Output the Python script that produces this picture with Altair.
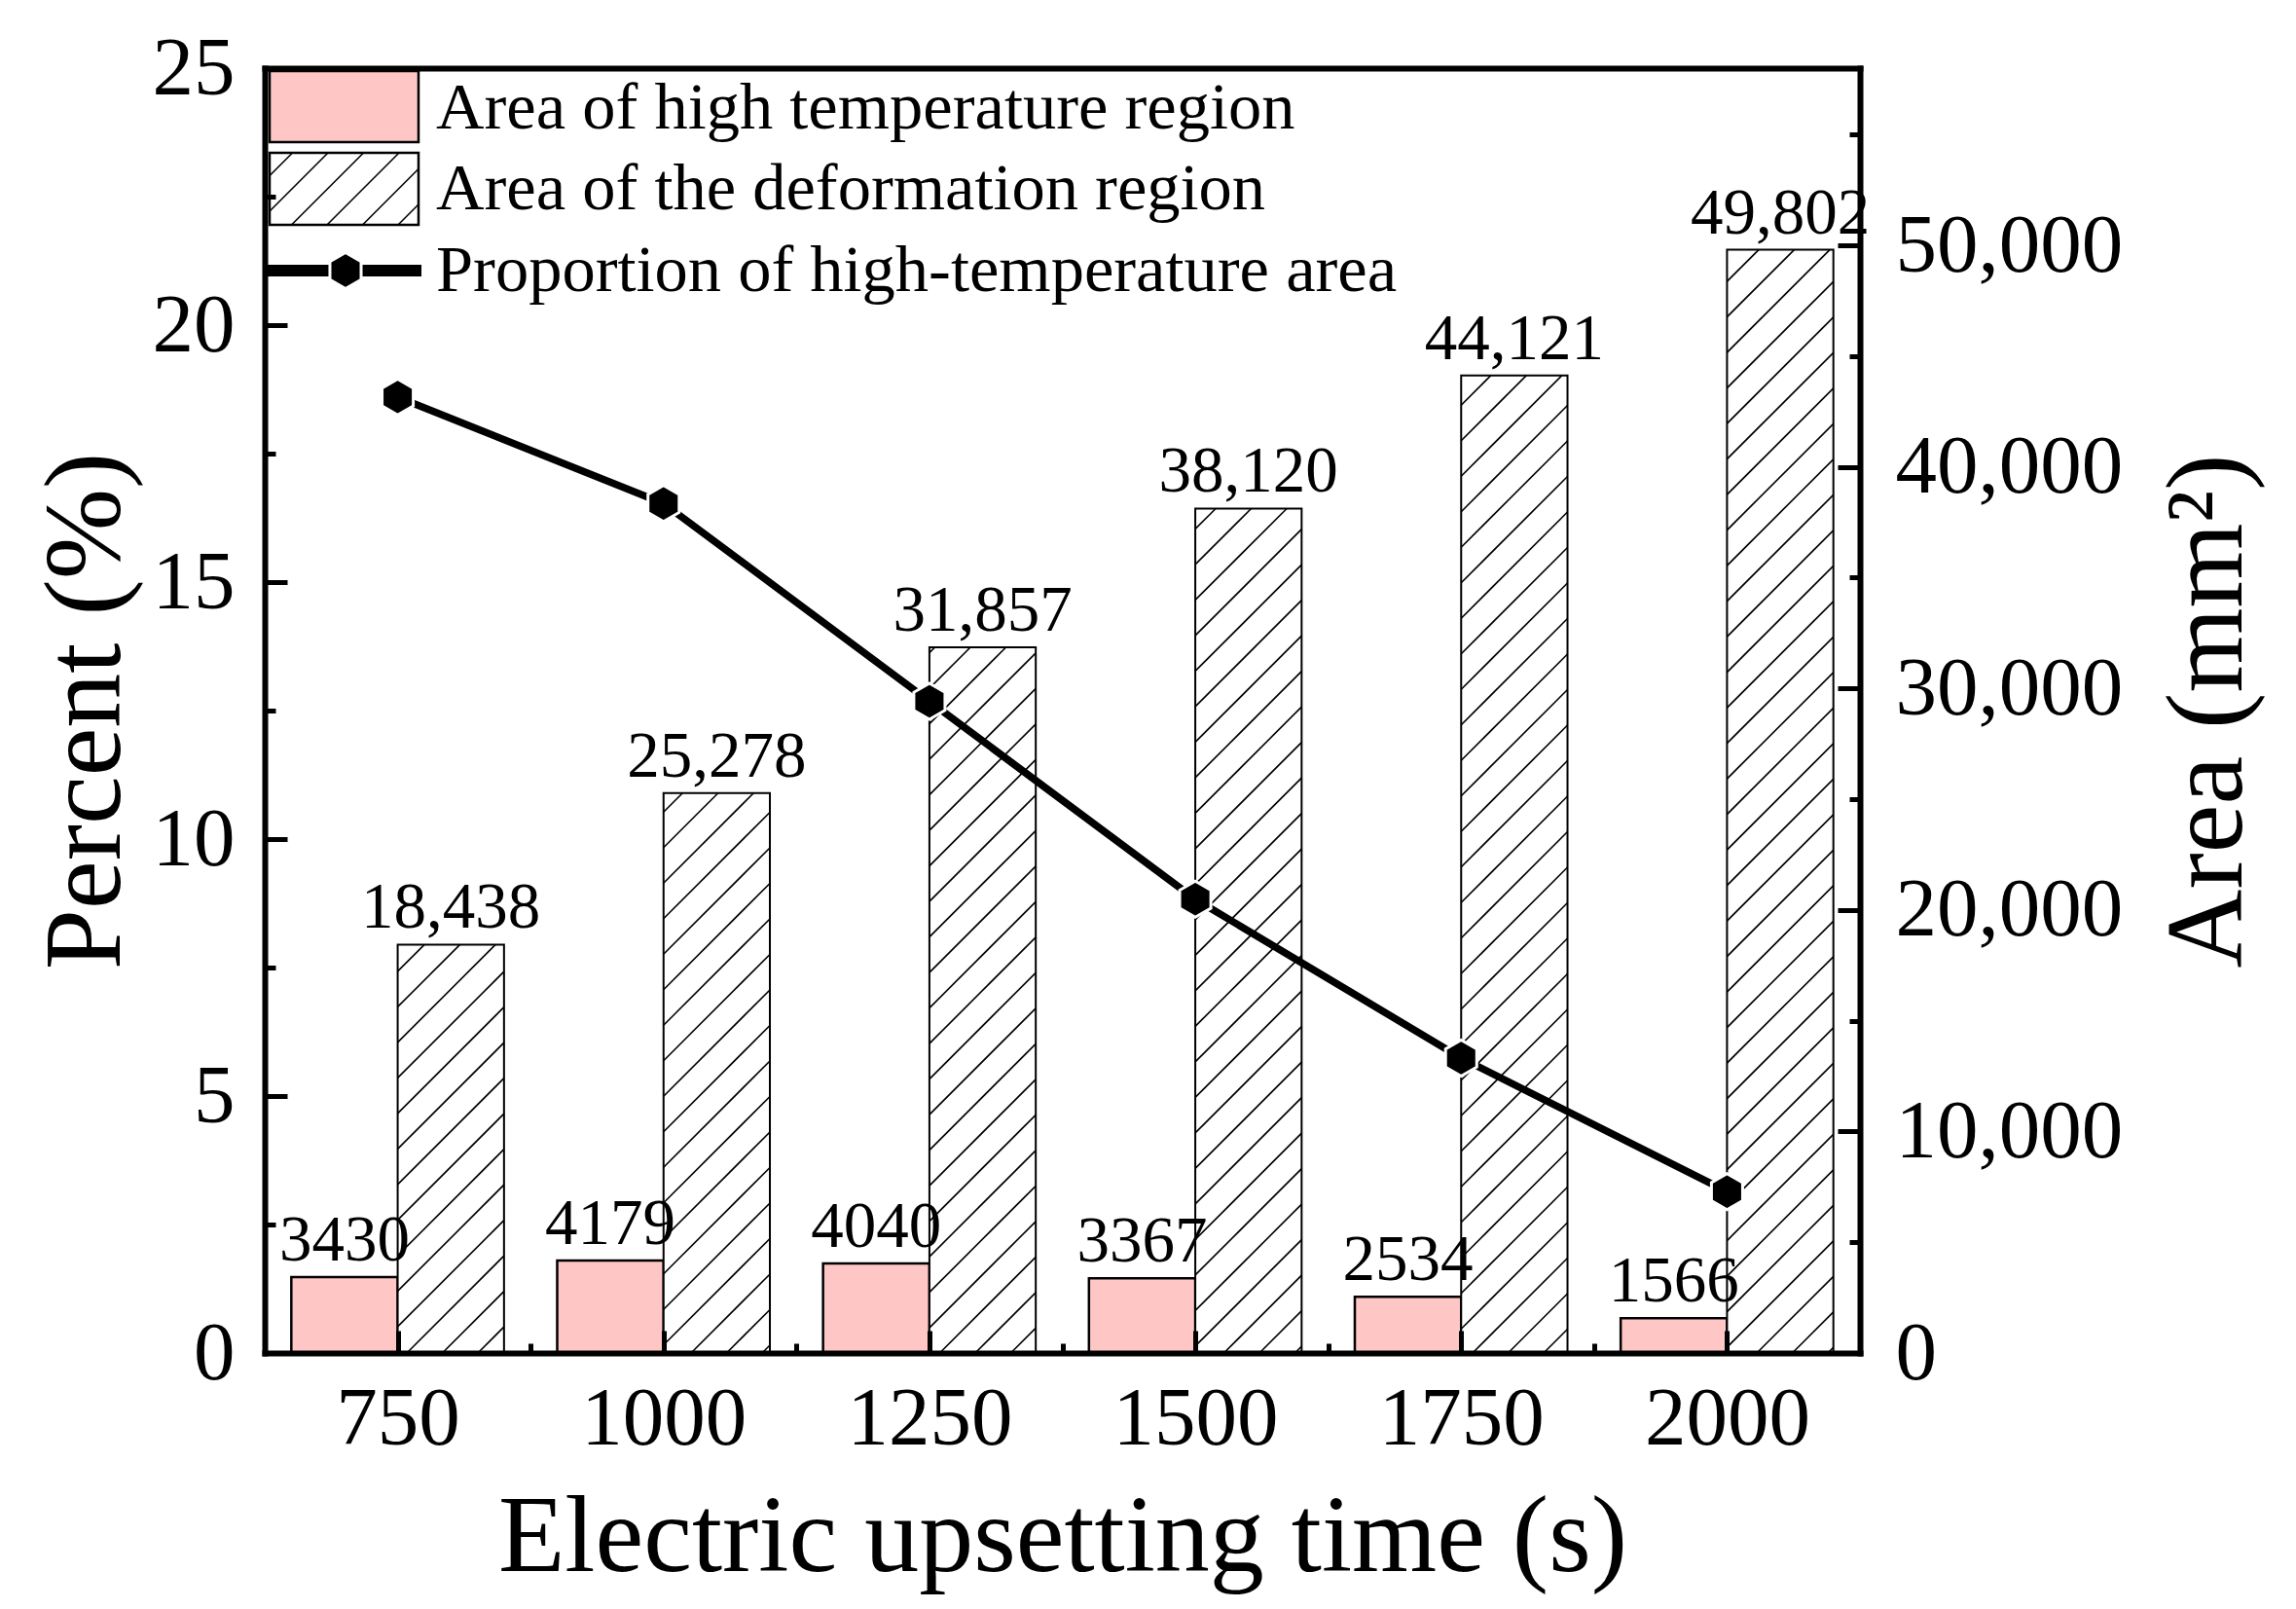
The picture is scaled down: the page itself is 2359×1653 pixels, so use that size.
import altair as alt
import pandas as pd
import numpy as np

# ---------------- data ----------------
times = [750, 1000, 1250, 1500, 1750, 2000]
high_area = [3430, 4179, 4040, 3367, 2534, 1566]
deform_area = [18438, 25278, 31857, 38120, 44121, 49802]
percent = [18.60, 16.53, 12.68, 8.83, 5.74, 3.14]

series_names = [
    "Area of high temperature region",
    "Area of the deformation region",
    "Proportion of high-temperature area",
]
x_title = "Electric upsetting time (s)"
y_left_title = "Percent (%)"
y_right_title = "Area (mm²)"
left_ticks = [0, 5, 10, 15, 20, 25]
left_minor = [2.5, 7.5, 12.5, 17.5, 22.5]
right_ticks = [0, 10000, 20000, 30000, 40000, 50000]
right_minor = [5000, 15000, 25000, 35000, 45000, 55000]

# ---------------- layout / style ----------------
W, H = 1639, 1320
X_DOM = [625, 2125]
PCT_DOM = [0, 25]
AREA_DOM = [0, 58000]
BAR_W = 100
FONT = "Liberation Serif"
PINK = "#FFC6C6"
HATCH_GAP = 36.5
HEX = "M0,-1L0.866,-0.5L0.866,0.5L0,1L-0.866,0.5L-0.866,-0.5Z"

x_minor = [t + 125 for t in times[:-1]]

df = pd.DataFrame({"time": times, "high": high_area, "deform": deform_area, "pct": percent})
one = pd.DataFrame({"a": [0]})

xs = alt.Scale(domain=X_DOM, nice=False, zero=False)
ps = alt.Scale(domain=PCT_DOM, nice=False)
ars = alt.Scale(domain=AREA_DOM, nice=False)

px_x = W / (X_DOM[1] - X_DOM[0])
px_a = H / (AREA_DOM[1] - AREA_DOM[0])


def hatch(X0, X1, Y0, Y1, gap):
    segs = []
    k0 = int(np.floor((Y0 - X1) / gap))
    k1 = int(np.ceil((Y1 - X0) / gap))
    for k in range(k0, k1 + 1):
        c = k * gap
        xa = max(X0, Y0 - c)
        xb = min(X1, Y1 - c)
        if xb - xa > 0.8:
            segs.append((xa, xa + c, xb, xb + c))
    return segs


rows = []
for t, v in zip(times, deform_area):
    X0 = (t - X_DOM[0]) * px_x
    X1 = (t + BAR_W - X_DOM[0]) * px_x
    for xa, ya, xb, yb in hatch(X0, X1, 0, v * px_a, HATCH_GAP):
        rows.append({"x": xa / px_x + X_DOM[0], "y": ya / px_a,
                     "x2": xb / px_x + X_DOM[0], "y2": yb / px_a})
hatch_df = pd.DataFrame(rows)

# legend hatch swatch (pixel space, y downward)
LX0, LX1, LY0, LY1 = 5, 158, 87, 161
lrows = []
for xa, ya, xb, yb in hatch(LX0, LX1, H - LY1, H - LY0, HATCH_GAP):
    lrows.append({"x": xa, "y": H - ya, "x2": xb, "y2": H - yb})
leg_hatch_df = pd.DataFrame(lrows)

# ---------------- data layers ----------------
pink = alt.Chart(df).transform_calculate(
    x0=f"datum.time - {BAR_W}", x1="datum.time", zero="0"
).mark_rect(fill=PINK, stroke="black", strokeWidth=2.5).encode(
    x=alt.X("x0:Q", scale=xs, axis=None),
    x2="x1:Q",
    y=alt.Y("high:Q", scale=ars, axis=None),
    y2="zero:Q",
)

deform = alt.Chart(df).transform_calculate(
    x0="datum.time", x1=f"datum.time + {BAR_W}", zero="0"
).mark_rect(fill="white", stroke="black", strokeWidth=2).encode(
    x=alt.X("x0:Q", scale=xs, axis=None),
    x2="x1:Q",
    y=alt.Y("deform:Q", scale=ars, axis=None),
    y2="zero:Q",
)

hatch_lines = alt.Chart(hatch_df).mark_rule(color="black", strokeWidth=1.6).encode(
    x=alt.X("x:Q", scale=xs, axis=None),
    x2="x2:Q",
    y=alt.Y("y:Q", scale=ars, axis=None),
    y2="y2:Q",
)

pink_lab = alt.Chart(df).transform_calculate(xc=f"datum.time - {BAR_W / 2}").mark_text(
    font=FONT, fontSize=67, color="black", baseline="alphabetic", dy=-17
).encode(
    x=alt.X("xc:Q", scale=xs, axis=None),
    y=alt.Y("high:Q", scale=ars, axis=None),
    text=alt.Text("high:Q", format="d"),
)

deform_lab = alt.Chart(df).transform_calculate(xc=f"datum.time + {BAR_W / 2}").mark_text(
    font=FONT, fontSize=67, color="black", baseline="alphabetic", dy=-17
).encode(
    x=alt.X("xc:Q", scale=xs, axis=None),
    y=alt.Y("deform:Q", scale=ars, axis=None),
    text=alt.Text("deform:Q", format=",d"),
)

line = alt.Chart(df).mark_line(color="black", strokeWidth=7.5).encode(
    x=alt.X("time:Q", scale=xs, axis=None),
    y=alt.Y("pct:Q", scale=ps, axis=None),
)

pts = alt.Chart(df).mark_point(
    shape=HEX, size=1369, filled=True, fill="black", stroke="white", strokeWidth=3, opacity=1
).encode(
    x=alt.X("time:Q", scale=xs, axis=None),
    y=alt.Y("pct:Q", scale=ps, axis=None),
)

# ---------------- legend ----------------
leg_pink = alt.Chart(one).mark_rect(fill=PINK, stroke="black", strokeWidth=2.5).encode(
    x=alt.value(5), x2=alt.value(158), y=alt.value(3), y2=alt.value(76)
)
leg_hrect = alt.Chart(one).mark_rect(fill="white", stroke="black", strokeWidth=2.5).encode(
    x=alt.value(LX0), x2=alt.value(LX1), y=alt.value(LY0), y2=alt.value(LY1)
)
leg_hlines = alt.Chart(leg_hatch_df).mark_rule(color="black", strokeWidth=1.6).encode(
    x=alt.X("x:Q", scale=None, axis=None),
    x2="x2:Q",
    y=alt.Y("y:Q", scale=None, axis=None),
    y2="y2:Q",
)
leg_line = alt.Chart(one).mark_rule(color="black", strokeWidth=12).encode(
    x=alt.value(0), x2=alt.value(161), y=alt.value(208)
)
leg_pt = alt.Chart(one).mark_point(
    shape=HEX, size=1369, filled=True, fill="black", stroke="white", strokeWidth=3, opacity=1
).encode(x=alt.value(83), y=alt.value(208))

leg_texts = [
    alt.Chart(one).mark_text(
        text=name, font=FONT, fontSize=68.5, color="black", align="left", baseline="alphabetic"
    ).encode(x=alt.value(176), y=alt.value(yy))
    for name, yy in zip(series_names, [62, 145, 229])
]

# ---------------- axes ----------------
lab_common = dict(labelFont=FONT, labelFontSize=85, labelColor="black", labelFlush=False,
                  labelOverlap=False, labelLimit=0, grid=False, zindex=1)
title_common = dict(titleFont=FONT, titleFontSize=112, titleFontWeight="normal", titleColor="black",
                    titleBaseline="alphabetic", titleAlign="center", titleLimit=0)
dom = dict(domain=True, domainColor="black", domainWidth=6, domainCap="square")
tick_common = dict(labels=False, domain=False, grid=False, tickColor="black", tickWidth=5, zindex=1)


def axis_layer(xaxis, yaxis, yscale):
    return alt.Chart(df).mark_point(opacity=0).encode(
        x=alt.X("time:Q", scale=xs, axis=xaxis),
        y=alt.Y("pct:Q", scale=yscale, axis=yaxis),
    )


ax1 = axis_layer(
    alt.Axis(orient="bottom", values=times, format="d", labelPadding=26, ticks=False, tickSize=0,
             title=x_title, titleX=W / 2, titleY=223, **lab_common, **title_common, **dom),
    alt.Axis(orient="left", values=left_ticks, format="d", labelPadding=31, ticks=False, tickSize=0,
             title=y_left_title, titleX=-150, titleY=H / 2, titleAngle=270,
             **lab_common, **title_common, **dom),
    ps,
)
ax2 = axis_layer(
    alt.Axis(orient="bottom", values=times, offset=-23, tickSize=23, title=None, **tick_common),
    alt.Axis(orient="left", values=left_ticks, offset=-23, tickSize=23, title=None, **tick_common),
    ps,
)
ax3 = axis_layer(
    alt.Axis(orient="bottom", values=x_minor, offset=-10, tickSize=10, title=None, **tick_common),
    alt.Axis(orient="left", values=left_minor, offset=-11, tickSize=11, title=None, **tick_common),
    ps,
)
ax4 = axis_layer(
    alt.Axis(orient="top", labels=False, ticks=False, tickSize=0, grid=False, title=None, zindex=1, **dom),
    alt.Axis(orient="right", values=right_ticks, format=",d", labelPadding=36, ticks=False, tickSize=0,
             title=y_right_title, titleX=391, titleY=H / 2, titleAngle=270,
             **lab_common, **title_common, **dom),
    ars,
)
ax5 = axis_layer(
    None,
    alt.Axis(orient="right", values=right_ticks, offset=-23, tickSize=23, title=None, **tick_common),
    ars,
)
ax6 = axis_layer(
    None,
    alt.Axis(orient="right", values=right_minor, offset=-11, tickSize=11, title=None, **tick_common),
    ars,
)

chart = alt.layer(
    pink, deform, hatch_lines, pink_lab, deform_lab, line, pts,
    leg_pink, leg_hrect, leg_hlines, leg_line, leg_pt, *leg_texts,
    ax1, ax2, ax3, ax4, ax5, ax6,
).resolve_scale(x="independent", y="independent").resolve_axis(
    x="independent", y="independent"
).properties(
    width=W, height=H,
    autosize=alt.AutoSizeParams(type="none"),
    padding={"left": 264, "top": 62, "right": 440, "bottom": 255},
    background="white",
).configure_view(stroke="transparent").configure(font=FONT)

chart.save("out.html", embed_options={"renderer": "svg", "actions": False})
